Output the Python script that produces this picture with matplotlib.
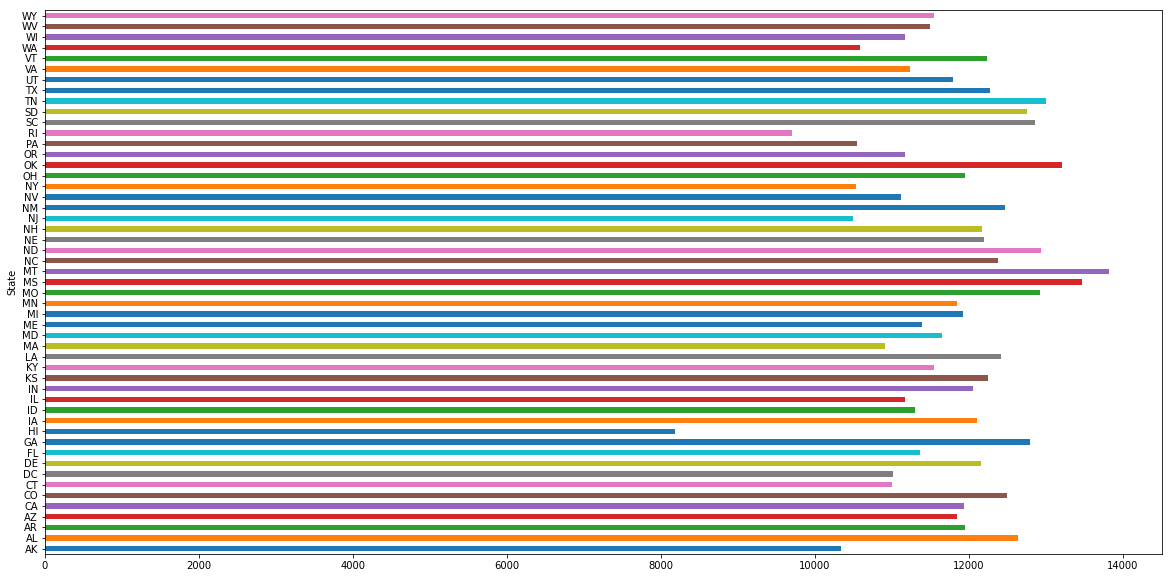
import matplotlib
matplotlib.use("Agg")
import matplotlib.pyplot as plt
import pandas as pd

states = ["AK", "AL", "AR", "AZ", "CA", "CO", "CT", "DC", "DE", "FL",
          "GA", "HI", "IA", "ID", "IL", "IN", "KS", "KY", "LA", "MA",
          "MD", "ME", "MI", "MN", "MO", "MS", "MT", "NC", "ND", "NE",
          "NH", "NJ", "NM", "NV", "NY", "OH", "OK", "OR", "PA", "RI",
          "SC", "SD", "TN", "TX", "UT", "VA", "VT", "WA", "WI", "WV", "WY"]

values = [10344, 12632, 11956, 11852, 11943, 12489, 11007, 11020, 12164, 11371,
          12800, 8187, 12112, 11306, 11176, 12060, 12255, 11553, 12411, 10916,
          11657, 11397, 11930, 11852, 12918, 13463, 13814, 12372, 12931, 12203,
          12177, 10500, 12463, 11124, 10539, 11956, 13216, 11176, 10552, 9708,
          12853, 12749, 12996, 12281, 11800, 11241, 12242, 10591, 11176, 11501, 11553]

# 11-step colour cycle as in the original (tab10 + blue repeated)
palette = ["#1f77b4", "#ff7f0e", "#2ca02c", "#d62728", "#9467bd", "#8c564b",
           "#e377c2", "#7f7f7f", "#bcbd22", "#17becf", "#1f77b4"]

s = pd.Series(values, index=pd.Index(states, name="State"))
colors = [palette[i % len(palette)] for i in range(len(s))]

fig = plt.figure(figsize=(1171 / 72, 578 / 72), dpi=72)
ax = fig.add_axes([45 / 1171, 24 / 578, (1161.7 - 45) / 1171, (554 - 10.3) / 578])
s.plot.barh(ax=ax, color=colors, width=0.5)
ax.set_ylim(-0.5, len(s) - 0.5)

fig.savefig("out.png", dpi=72)
